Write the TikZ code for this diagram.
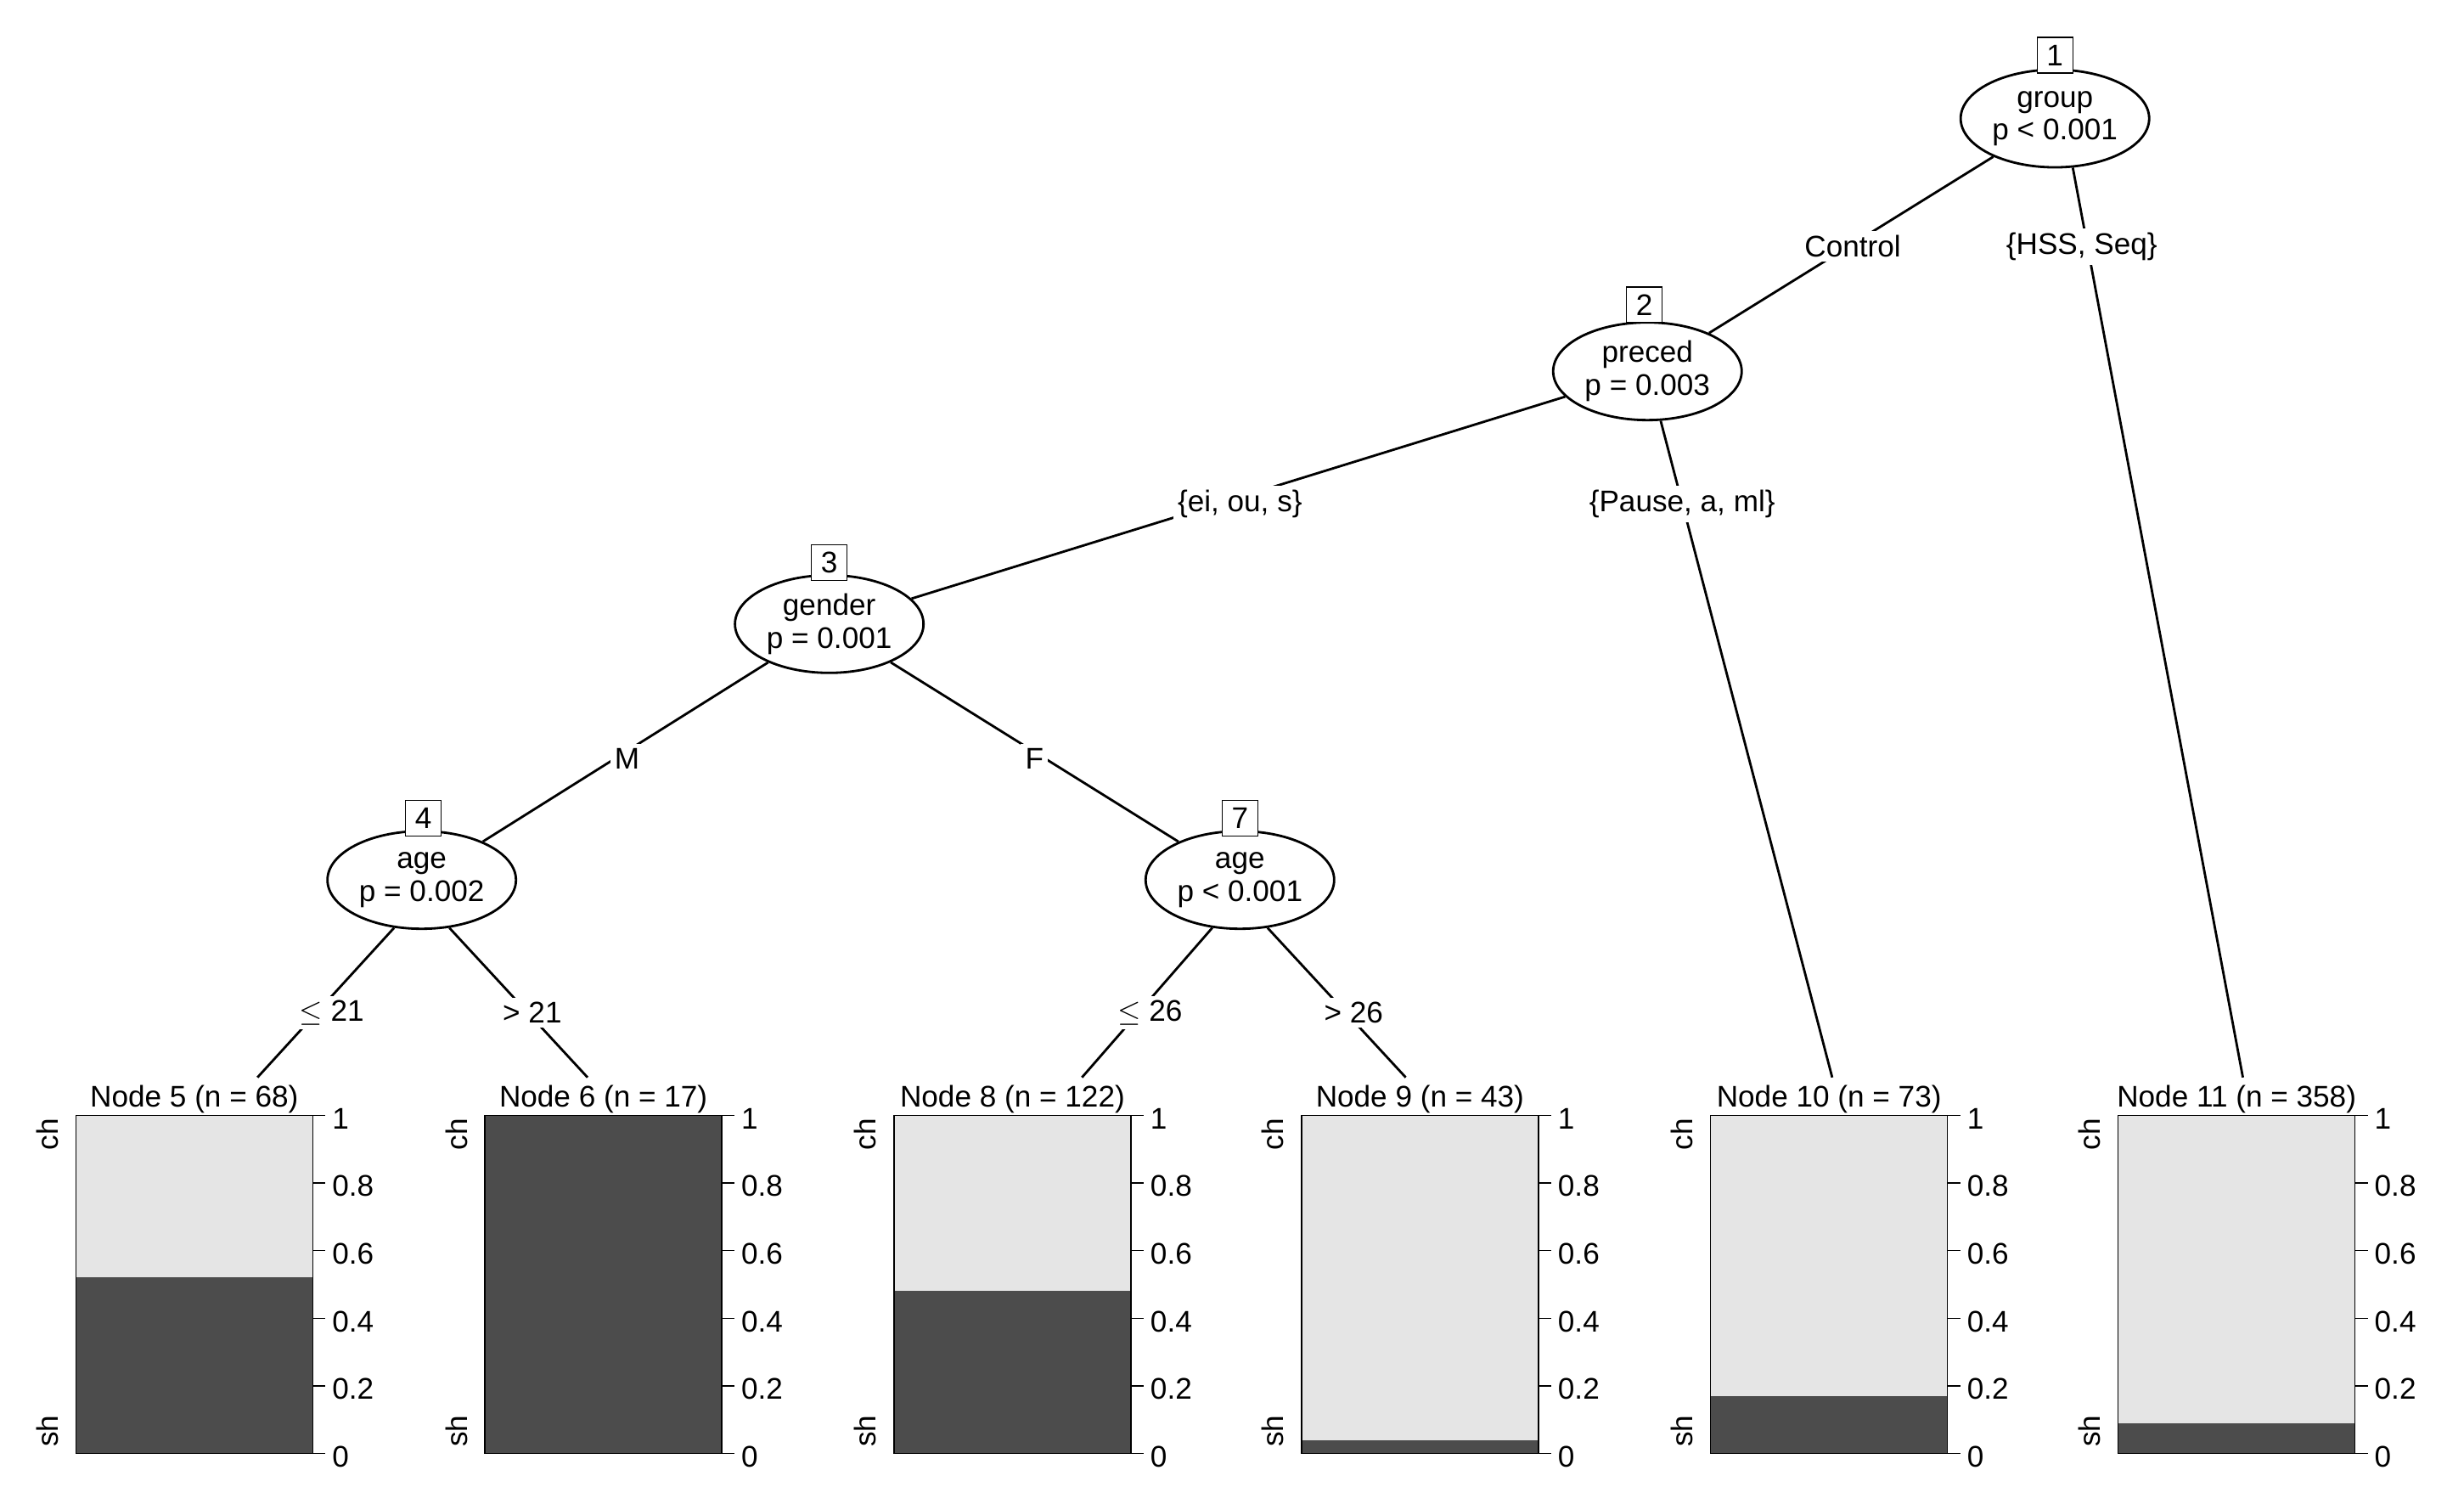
\documentclass[tikz,border=0pt]{standalone}
\usepackage{fontspec}
\setmainfont{Liberation Sans}
\usetikzlibrary{shapes.geometric}
\definecolor{darkbar}{gray}{0.30}
\definecolor{lightbar}{gray}{0.90}
\begin{document}
\begin{tikzpicture}[x=0.0186cm,y=-0.0186cm,font=\fontsize{10}{11}\selectfont]
  \tikzset{inner/.style={ellipse,draw,thick,minimum width=2.22cm,minimum height=1.15cm,align=center,inner sep=0pt},
    idbox/.style={draw,fill=white,minimum size=0.42cm,inner sep=1pt},
    elab/.style={fill=white,inner sep=1.5pt}}
  \useasboundingbox (0,0) rectangle (1560,941);
  % inner nodes
  \node[inner] (n1) at (1301,75) {group\\p < 0.001};
  \node[inner] (n2) at (1043,235) {preced\\p = 0.003};
  \node[inner] (n3) at (525,395) {gender\\p = 0.001};
  \node[inner] (n4) at (267,557) {age\\p = 0.002};
  \node[inner] (n7) at (785,557) {age\\p < 0.001};
  \foreach \nm/\x/\y in {1/1301/35, 2/1041/193, 3/525/356, 4/268/518, 7/785/518}
    \node[idbox] (b\nm) at (\x,\y) {\nm};
  % terminal tops
  \coordinate (t5) at (163,682);
  \coordinate (t6) at (372,682);
  \coordinate (t8) at (685,682);
  \coordinate (t9) at (890,682);
  \coordinate (t10) at (1160,682);
  \coordinate (t11) at (1420,682);
  % connectors
  \draw[thick] (n1) -- (n2);
  \draw[thick] (n1.-70) -- (t11);
  \draw[thick] (n2) -- (n3);
  \draw[thick] (n2.-75) -- (t10);
  \draw[thick] (n3) -- (n4);
  \draw[thick] (n3) -- (n7);
  \draw[thick] (n4.-120) -- (t5);
  \draw[thick] (n4.-60) -- (t6);
  \draw[thick] (n7.-120) -- (t8);
  \draw[thick] (n7.-60) -- (t9);
  % edge labels
  \node[elab] (l12) at (1173,156) {Control};
  \node[elab] (l111) at (1318,156) {\{HSS, Seq\}};
  \node[elab] (l23) at (785,319) {\{ei, ou, s\}};
  \node[elab] (l210) at (1065,319) {\{Pause, a, ml\}};
  \node[elab] (l34) at (397,480) {M};
  \node[elab] (l37) at (655,480) {F};
  \node[elab] (l45) at (210,641) {$\leq$ 21};
  \node[elab] (l46) at (337,641) {> 21};
  \node[elab] (l78) at (728,641) {$\leq$ 26};
  \node[elab] (l79) at (857,641) {> 26};
  % terminal panels
  \foreach \nm/\n/\x/\f in {5/68/48/0.52, 6/17/307/1, 8/122/566/0.48, 9/43/824/0.04, 10/73/1083/0.17, 11/358/1341/0.09} {
    \fill[lightbar] (\x,706) rectangle (\x+150,920);
    \fill[darkbar] (\x,920) rectangle (\x+150,920-214*\f);
    \draw (\x,706) rectangle (\x+150,920);
    \node[fill=white,inner sep=0.5pt,anchor=south] (h\nm) at (\x+75,706) {Node \nm\ (n = \n)};
    \node[rotate=90] (ch\nm) at (\x-18,718) {ch};
    \node[rotate=90] (sh\nm) at (\x-18,906) {sh};
    \draw (\x+150,706) -- (\x+150,920);
    \foreach \v/\t in {0/0,0.2/0.2,0.4/0.4,0.6/0.6,0.8/0.8,1/1} {
      \draw (\x+150,920-214*\v) -- (\x+158,920-214*\v);
      \node[anchor=west,inner sep=0pt] at (\x+162,920-214*\v+2) {\t};
    }
  }
\end{tikzpicture}
\end{document}
